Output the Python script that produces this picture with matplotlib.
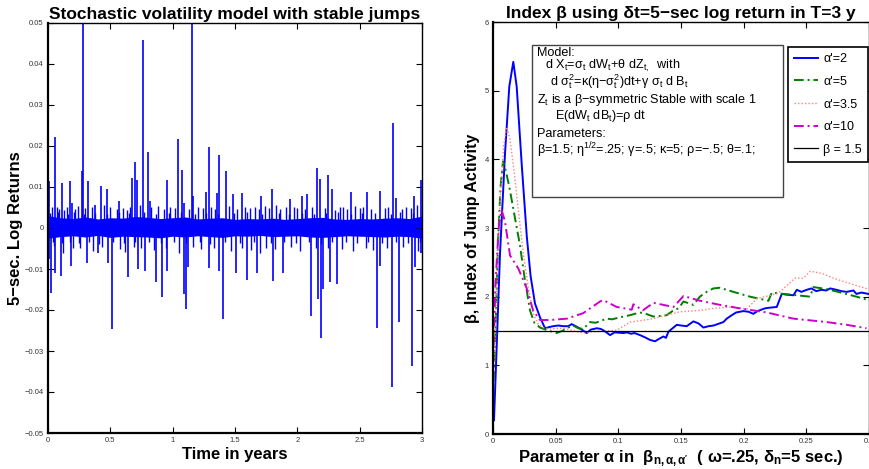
import matplotlib
matplotlib.use("Agg")
import matplotlib.pyplot as plt
from matplotlib.patches import Rectangle
import numpy as np

plt.rcParams['font.family'] = ['Liberation Sans', 'DejaVu Sans']
plt.rcParams['mathtext.fontset'] = 'custom'
plt.rcParams['mathtext.rm'] = 'Liberation Sans'
plt.rcParams['mathtext.it'] = 'Liberation Sans:italic'
plt.rcParams['mathtext.bf'] = 'Liberation Sans:bold'
plt.rcParams['mathtext.default'] = 'regular'

# ---------------- Left panel data ----------------
band_t = [0.0, 0.1, 0.2, 0.3, 0.4, 0.5, 0.6, 0.7, 0.8, 0.9, 1.0, 1.1, 1.2, 1.3, 1.4, 1.5,
          1.6, 1.7, 1.8, 1.9, 2.0, 2.1, 2.2, 2.3, 2.4, 2.5, 2.6, 2.7, 2.8, 2.9, 3.0]
band_hi = [0.0030, 0.0025, 0.0023, 0.0027, 0.0022, 0.0025, 0.0024, 0.0028, 0.0026, 0.0023,
           0.0025, 0.0027, 0.0022, 0.0024, 0.0025, 0.0021, 0.0023, 0.0022, 0.0024, 0.0021,
           0.0023, 0.0025, 0.0026, 0.0022, 0.0021, 0.0023, 0.0022, 0.0024, 0.0025, 0.0023, 0.0029]
band_lo = [-0.0025, -0.0021, -0.0019, -0.0022, -0.0018, -0.0023, -0.0020, -0.0021, -0.0022, -0.0024,
           -0.0020, -0.0022, -0.0019, -0.0021, -0.0023, -0.0019, -0.0020, -0.0018, -0.0021, -0.0020,
           -0.0019, -0.0022, -0.0023, -0.0021, -0.0019, -0.0020, -0.0021, -0.0022, -0.0020, -0.0021, -0.0025]

jump_t = [0.008, 0.054, 0.112, 0.174, 0.195, 0.27, 0.283, 0.323, 0.376, 0.423, 0.471, 0.572,
          0.671, 0.695, 0.717, 0.759, 0.799, 0.818, 0.952, 1.040, 1.072, 1.093, 1.157, 1.165,
          1.267, 1.289, 1.358, 1.374, 1.430, 1.486, 1.553, 1.711, 1.794, 1.94, 2.034, 2.08,
          2.155, 2.182, 2.245, 2.28, 2.427, 2.556, 2.663, 2.764, 2.788, 2.938, 2.989,
          0.010, 0.024, 0.056, 0.104, 0.184, 0.316, 0.40, 0.484, 0.511, 0.644, 0.72, 0.78,
          0.864, 0.912, 0.958, 1.093, 1.104, 1.12, 1.292, 1.372, 1.401, 1.51, 1.593, 1.673,
          1.802, 1.887, 2.107, 2.168, 2.189, 2.207, 2.26, 2.32, 2.636, 2.66, 2.756, 2.815,
          2.922, 2.945, 2.99]
jump_v = [0.0114, 0.0223, 0.0110, 0.0114, 0.0060, 0.0140, 0.0600, 0.0114, 0.0057, 0.0103,
          0.0094, 0.0067, 0.0122, 0.0161, 0.0116, 0.0458, 0.0185, 0.0066, 0.0118, 0.0218,
          0.0141, 0.0060, 0.0600, 0.0078, 0.0088, 0.0197, 0.0086, 0.0178, 0.0140, 0.0084,
          0.0086, 0.0078, 0.0095, 0.0070, 0.0078, 0.0082, 0.0146, 0.0120, 0.0130, 0.0095,
          0.0087, 0.0089, 0.0090, 0.0256, 0.0074, 0.0078, 0.0116,
          -0.0075, -0.0158, -0.0109, -0.0117, -0.0093, -0.0085, -0.0060, -0.0085, -0.0247,
          -0.0120, -0.0100, -0.0105, -0.0131, -0.0168, -0.0105, -0.0160, -0.0198, -0.0095,
          -0.0097, -0.0105, -0.0223, -0.0109, -0.0128, -0.0109, -0.0130, -0.0110, -0.0215,
          -0.0172, -0.0269, -0.0148, -0.0131, -0.0136, -0.0244, -0.0093, -0.0387, -0.0229,
          -0.0337, -0.0094, -0.0060]

small_t = [0.03, 0.07, 0.09, 0.13, 0.15, 0.22, 0.24, 0.30, 0.35, 0.45, 0.50, 0.55, 0.60, 0.63,
           0.66, 0.74, 0.83, 0.88, 0.93, 0.98, 1.02, 1.13, 1.20, 1.24, 1.31, 1.34, 1.45, 1.52,
           1.58, 1.62, 1.66, 1.69, 1.74, 1.77, 1.83, 1.86, 1.91, 1.97, 2.00, 2.06, 2.12, 2.22,
           2.30, 2.34, 2.37, 2.40, 2.46, 2.50, 2.53, 2.59, 2.70, 2.73, 2.84, 2.87, 2.91, 2.96,
           0.05, 0.12, 0.20, 0.26, 0.36, 0.43, 0.58, 0.62, 0.69, 0.75, 0.85, 0.95, 1.05, 1.16,
           1.23, 1.33, 1.47, 1.56, 1.63, 1.70, 1.75, 1.82, 1.95, 2.02, 2.15, 2.25, 2.36, 2.45,
           2.55, 2.61, 2.72, 2.85, 2.97,
           0.015, 0.04, 0.08, 0.11, 0.16, 0.18, 0.21, 0.25, 0.29, 0.33, 0.38, 0.41, 0.47, 0.52,
           0.57, 0.61, 0.65, 0.70, 0.77, 0.81, 0.87, 0.91, 0.97, 1.01, 1.07, 1.11, 1.18, 1.22,
           1.27, 1.30, 1.36, 1.42, 1.49, 1.54, 1.60, 1.65, 1.72, 1.79, 1.85, 1.89, 1.93, 1.99,
           2.04, 2.09, 2.13, 2.19, 2.23, 2.28, 2.33, 2.39, 2.43, 2.48, 2.52, 2.57, 2.62, 2.68,
           2.75, 2.79, 2.82, 2.89, 2.93, 2.98]
small_v = [0.0050, 0.0052, 0.0047, 0.0043, 0.0050, 0.0046, 0.0054, 0.0048, 0.0052, 0.0055,
           0.0050, 0.0047, 0.0049, 0.0045, 0.0052, 0.0056, 0.0050, 0.0053, 0.0047, 0.0051,
           0.0049, 0.0046, 0.0052, 0.0048, 0.0050, 0.0047, 0.0054, 0.0046, 0.0050, 0.0048,
           0.0051, 0.0047, 0.0053, 0.0049, 0.0055, 0.0046, 0.0050, 0.0052, 0.0048, 0.0047,
           0.0051, 0.0049, 0.0045, 0.0050, 0.0052, 0.0047, 0.0053, 0.0048, 0.0050, 0.0046,
           0.0049, 0.0051, 0.0047, 0.0052, 0.0048, 0.0055,
           -0.0045, -0.0060, -0.0050, -0.0048, -0.0055, -0.0047, -0.0052, -0.0058, -0.0046,
           -0.0050, -0.0054, -0.0049, -0.0061, -0.0047, -0.0052, -0.0050, -0.0056, -0.0048,
           -0.0053, -0.0062, -0.0049, -0.0051, -0.0047, -0.0055, -0.0050, -0.0048, -0.0052,
           -0.0057, -0.0049, -0.0053, -0.0050, -0.0046, -0.0055,
           0.0036, -0.0034, 0.0038, -0.0036, 0.0035, -0.0033, 0.0039, -0.0037, 0.0034, -0.0035,
           0.0037, -0.0038, 0.0035, -0.0034, 0.0040, -0.0036, 0.0036, -0.0035, 0.0038, -0.0033,
           0.0035, -0.0037, 0.0036, -0.0034, 0.0039, -0.0036, 0.0034, -0.0035, 0.0037, -0.0038,
           0.0035, -0.0033, 0.0036, -0.0036, 0.0038, -0.0034, 0.0035, -0.0037, 0.0036, -0.0035,
           0.0034, -0.0036, 0.0037, -0.0033, 0.0035, -0.0038, 0.0036, -0.0034, 0.0038, -0.0035,
           0.0035, -0.0036, 0.0037, -0.0034, 0.0036, -0.0037, 0.0035, -0.0033, 0.0038, -0.0036,
           0.0037, -0.0035]

left_xticks = [0, 0.5, 1, 1.5, 2, 2.5, 3]
left_xticklabels = ["0", "0.5", "1", "1.5", "2", "2.5", "3"]
left_yticks = [-0.05, -0.04, -0.03, -0.02, -0.01, 0, 0.01, 0.02, 0.03, 0.04, 0.05]
left_yticklabels = ["\u22120.05", "\u22120.04", "\u22120.03", "\u22120.02", "\u22120.01", "0",
                    "0.01", "0.02", "0.03", "0.04", "0.05"]

# ---------------- Right panel data ----------------
a_blue = [0.0008, 0.003, 0.0056, 0.0096, 0.013, 0.0162, 0.0189, 0.0229, 0.027, 0.030, 0.0335,
          0.0375, 0.0415, 0.0455, 0.0481, 0.052, 0.0561, 0.060, 0.0628, 0.066, 0.0708, 0.0748,
          0.078, 0.0828, 0.086, 0.089, 0.0934, 0.097, 0.104, 0.107, 0.110, 0.113, 0.1173,
          0.121, 0.1253, 0.1293, 0.132, 0.1359, 0.138, 0.140, 0.1466, 0.150, 0.1546, 0.1599,
          0.164, 0.1679, 0.172, 0.176, 0.1838, 0.1865, 0.1905, 0.194, 0.1998, 0.204, 0.2077,
          0.211, 0.217, 0.221, 0.2264, 0.2304, 0.234, 0.2397, 0.2424, 0.246, 0.2504, 0.254,
          0.258, 0.262, 0.266, 0.269, 0.274, 0.278, 0.2823, 0.2876, 0.290, 0.294, 0.2995]
v_blue = [0.20, 1.30, 2.63, 4.09, 5.06, 5.42, 5.06, 3.93, 2.87, 2.30, 1.90,
          1.70, 1.54, 1.56, 1.57, 1.58, 1.57, 1.57, 1.60, 1.57, 1.52, 1.47,
          1.52, 1.54, 1.53, 1.50, 1.44, 1.48, 1.47, 1.48, 1.46, 1.47, 1.44,
          1.41, 1.37, 1.35, 1.38, 1.42, 1.40, 1.49, 1.59, 1.58, 1.57, 1.64,
          1.61, 1.55, 1.57, 1.58, 1.63, 1.68, 1.73, 1.77, 1.79, 1.78, 1.75,
          1.79, 1.83, 1.84, 1.85, 2.04, 2.03, 2.02, 2.10, 2.07, 2.10, 2.12,
          2.08, 2.10, 2.09, 2.12, 2.10, 2.08, 2.07, 2.09, 2.04, 2.06, 2.04]

a_green = [0.0, 0.002, 0.004, 0.006, 0.008, 0.010, 0.013, 0.016, 0.019, 0.0215, 0.025, 0.0295,
           0.033, 0.0375, 0.042, 0.047, 0.0508, 0.055, 0.060, 0.064, 0.068, 0.072, 0.0774,
           0.082, 0.0907, 0.095, 0.1014, 0.1093, 0.117, 0.122, 0.128, 0.1386, 0.1439, 0.148,
           0.152, 0.160, 0.165, 0.1705, 0.1758, 0.181, 0.1918, 0.2051, 0.2198, 0.2224, 0.2317,
           0.2424, 0.253, 0.2557, 0.2663, 0.2796, 0.290, 0.2995]
v_green = [0.49, 1.50, 2.80, 3.60, 3.97, 3.85, 3.60, 3.30, 3.00, 2.75, 2.30, 1.80,
           1.62, 1.55, 1.52, 1.49, 1.47, 1.50, 1.55, 1.58, 1.54, 1.53, 1.63,
           1.62, 1.68, 1.67, 1.70, 1.73, 1.77, 1.75, 1.71, 1.73, 1.80, 1.83,
           1.93, 1.88, 2.00, 2.07, 2.12, 2.13, 2.07, 2.00, 1.94, 2.06, 2.04,
           2.02, 2.00, 2.14, 2.11, 2.05, 2.00, 1.95]

a_pink = [0.0, 0.002, 0.004, 0.006, 0.0085, 0.011, 0.0135, 0.017, 0.020, 0.0242, 0.028, 0.032,
          0.036, 0.040, 0.045, 0.0561, 0.065, 0.072, 0.080, 0.090, 0.0987, 0.1093, 0.1253,
          0.1386, 0.1492, 0.1652, 0.176, 0.189, 0.2025, 0.2104, 0.2277, 0.241, 0.2477, 0.253,
          0.2623, 0.2716, 0.285, 0.2995]
v_pink = [0.55, 1.60, 2.70, 3.50, 4.20, 4.47, 4.30, 3.80, 3.30, 2.63, 2.15, 1.76,
          1.60, 1.55, 1.53, 1.54, 1.50, 1.47, 1.49, 1.50, 1.51, 1.63, 1.67,
          1.73, 1.78, 1.80, 1.83, 1.85, 1.82, 1.97, 2.05, 2.27, 2.27, 2.37,
          2.34, 2.27, 2.19, 2.11]

a_mag = [0.0, 0.002, 0.0045, 0.0069, 0.0095, 0.0136, 0.0202, 0.0269, 0.032, 0.0375, 0.0455,
         0.059, 0.072, 0.0854, 0.088, 0.0987, 0.1107, 0.112, 0.1195, 0.128, 0.144, 0.152,
         0.1652, 0.1812, 0.197, 0.2184, 0.2397, 0.2663, 0.2823, 0.298]
v_mag = [1.00, 2.20, 3.00, 3.26, 3.10, 2.60, 2.41, 2.12, 1.80, 1.66, 1.66,
         1.68, 1.76, 1.93, 1.95, 1.85, 1.81, 1.89, 1.80, 1.91, 1.85, 2.01,
         1.94, 1.88, 1.83, 1.77, 1.68, 1.63, 1.59, 1.54]

beta_true = 1.5

series_labels = ["\u03b1'=2", "\u03b1'=5", "\u03b1'=3.5", "\u03b1'=10", "\u03b2 = 1.5"]
right_xticks = [0, 0.05, 0.1, 0.15, 0.2, 0.25, 0.3]
right_xticklabels = ["0", "0.05", "0.1", "0.15", "0.2", "0.25", "0.3"]
right_yticks = [0, 1, 2, 3, 4, 5, 6]
right_yticklabels = ["0", "1", "2", "3", "4", "5", "6"]

# ---------------- Figure ----------------
W, H = 870, 469
fig = plt.figure(figsize=(8.7, 4.69), dpi=100)

def axrect(x0, y0, x1, y1):
    return [x0 / W, 1 - y1 / H, (x1 - x0) / W, (y1 - y0) / H]

ax1 = fig.add_axes(axrect(48, 23, 422, 433))
ax2 = fig.add_axes(axrect(493, 22, 869, 434))

tick_kw = dict(direction='in', length=4, width=0.8, labelsize=5.5, labelcolor='#333333',
               top=True, right=True, pad=3)

# Left panel
blue = '#0000ff'
ax1.fill_between(band_t, band_lo, band_hi, color=blue, lw=0)
ax1.vlines(small_t, 0, small_v, color=blue, lw=1.0)
ax1.vlines(jump_t, 0, jump_v, color=blue, lw=1.2)
ax1.set_xlim(0, 3)
ax1.set_ylim(-0.05, 0.05)
ax1.set_xticks(left_xticks)
ax1.set_xticklabels(left_xticklabels)
ax1.set_yticks(left_yticks)
ax1.set_yticklabels(left_yticklabels)
ax1.tick_params(**tick_kw)
for s in ax1.spines.values():
    s.set_linewidth(1.0)
ax1.spines['left'].set_linewidth(1.6)
ax1.spines['bottom'].set_linewidth(1.6)
ax1.set_title("Stochastic volatility model with stable jumps", fontsize=12.5, fontweight='bold', pad=3)
ax1.set_xlabel("Time in years", fontsize=12, fontweight='bold', labelpad=2)
ax1.set_ylabel("5\u2212sec. Log Returns", fontsize=12, fontweight='bold', labelpad=1)

# Right panel
l1, = ax2.plot(a_blue, v_blue, color='#0000ff', lw=1.4, ls='-')
l2, = ax2.plot(a_green, v_green, color='#008000', lw=1.4, ls=(0, (5, 2, 1, 2)))
l3, = ax2.plot(a_pink, v_pink, color='#ff8080', lw=1.0, ls=(0, (1, 1.5)))
l4, = ax2.plot(a_mag, v_mag, color='#cc00cc', lw=1.4, ls=(0, (5, 2, 1, 2)))
l5 = ax2.axhline(beta_true, color='black', lw=0.9)
ax2.set_xlim(0, 0.3)
ax2.set_ylim(0, 6)
ax2.set_xticks(right_xticks)
ax2.set_xticklabels(right_xticklabels)
ax2.set_yticks(right_yticks)
ax2.set_yticklabels(right_yticklabels)
ax2.tick_params(**tick_kw)
for s in ax2.spines.values():
    s.set_linewidth(1.0)
ax2.spines['left'].set_linewidth(1.6)
ax2.spines['bottom'].set_linewidth(1.6)
ax2.set_title("Index \u03b2 using \u03b4t=5\u2212sec log return in T=3 y", fontsize=12.5,
              fontweight='bold', pad=3)
ax2.set_xlabel("Parameter \u03b1 in  \u03b2$_{n,\u03b1,\u03b1'}$  ( \u03c9=.25, \u03b4$_n$=5 sec.)",
               fontsize=12, fontweight='bold', labelpad=2)
ax2.set_ylabel("\u03b2, Index of Jump Activity", fontsize=11.5, fontweight='bold', labelpad=3)

# Model text box
def ax2frac(px, py):
    return ((px - 493) / (869 - 493), 1 - (py - 22) / (434 - 22))

bx0, by1 = ax2frac(531.7, 45)
bx1, by0 = ax2frac(783.3, 196.7)
ax2.add_patch(Rectangle((bx0, by0), bx1 - bx0, by1 - by0, transform=ax2.transAxes,
                        facecolor='white', edgecolor='#444444', lw=1.0, zorder=5))
box_lines = [
    (537, 52.5, "Model:"),
    (545, 66, "d X$_t$=\u03c3$_t$ dW$_t$+\u03b8 dZ$_{t,}$  with"),
    (550, 82, "d \u03c3$_t^2$=\u03ba(\u03b7\u2212\u03c3$_t^2$)dt+\u03b3 \u03c3$_t$ d B$_t$"),
    (537, 100, "Z$_t$ is a \u03b2\u2212symmetric Stable with scale 1"),
    (555, 116, "E(dW$_t$ dB$_t$)=\u03c1 dt"),
    (537, 134.3, "Parameters:"),
    (537, 150, "\u03b2=1.5; \u03b7$^{1/2}$=.25; \u03b3=.5; \u03ba=5; \u03c1=\u2212.5; \u03b8=.1;"),
]
for px, py, s in box_lines:
    fx, fy = ax2frac(px, py)
    ax2.text(fx, fy, s, transform=ax2.transAxes, fontsize=9.1, va='center', ha='left', zorder=6)

lx, ly = ax2frac(868, 47)
leg = ax2.legend([l1, l2, l3, l4, l5], series_labels, loc='upper right',
                 bbox_to_anchor=(lx, ly), fontsize=9, frameon=True, fancybox=False,
                 edgecolor='black', framealpha=1, handlelength=1.9, handletextpad=0.4,
                 labelspacing=0.85, borderpad=0.5, borderaxespad=0)
leg.get_frame().set_linewidth(1.2)
leg.set_zorder(7)

fig.savefig("out.png", dpi=100)
